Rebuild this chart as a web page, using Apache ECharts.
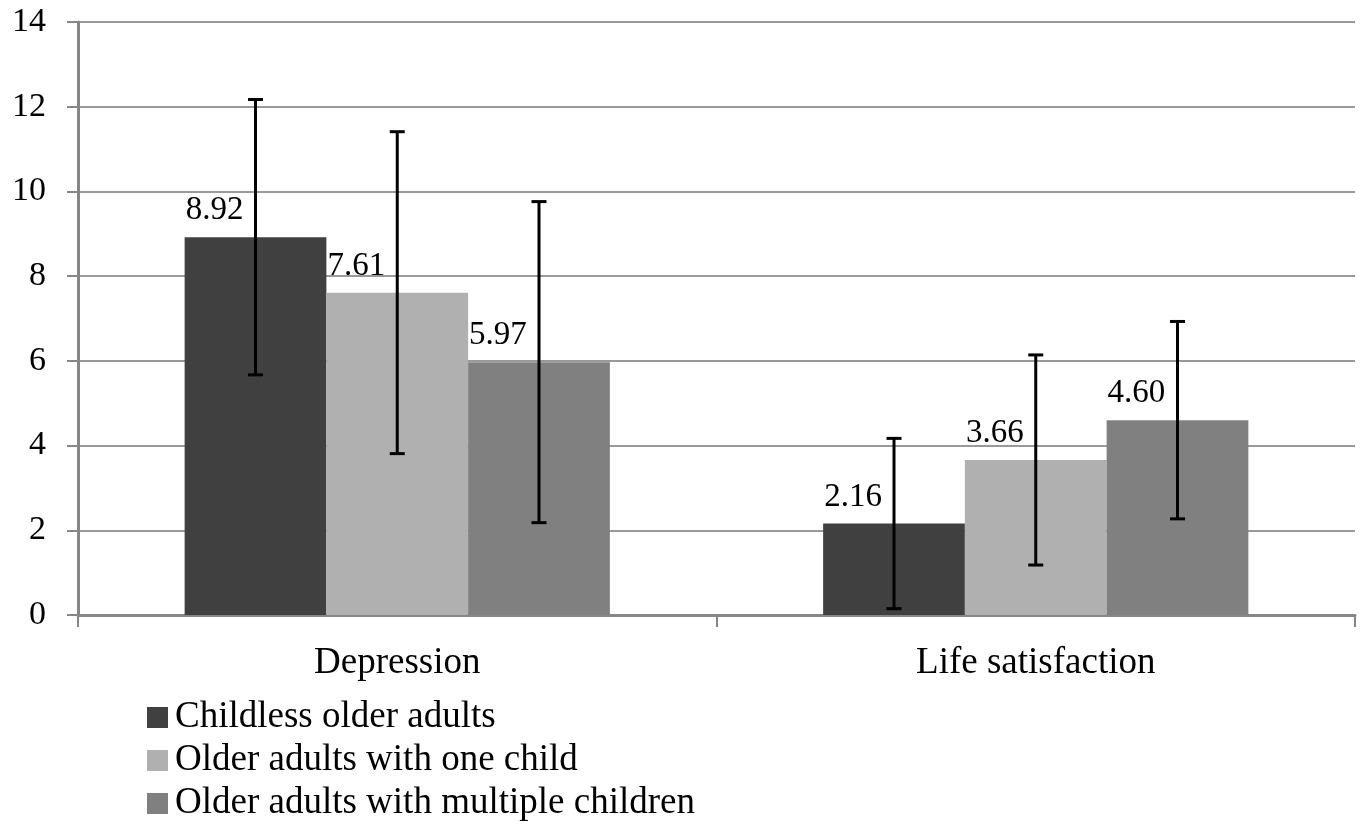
<!DOCTYPE html>
<html>
<head>
<meta charset="utf-8">
<script src="https://cdn.jsdelivr.net/npm/echarts@6/dist/echarts.min.js"></script>
<style>html,body{margin:0;padding:0;background:#fff;}#chart{width:1361px;height:825px;}</style>
</head>
<body>
<div id="chart"></div>
<script>
var categories = ['Depression', 'Life satisfaction'];
var seriesNames = ['Childless older adults', 'Older adults with one child', 'Older adults with multiple children'];
var childlessMean = [8.92, 2.16];
var oneChildMean = [7.61, 3.66];
var multipleMean = [5.97, 4.60];
var childlessSD = [3.25, 2.01];
var oneChildSD = [3.80, 2.48];
var multipleSD = [3.79, 2.33];
var yTicks = [0, 2, 4, 6, 8, 10, 12, 14];

var colors = ['#404040', '#b0b0b0', '#808080'];
var means = [childlessMean, oneChildMean, multipleMean];
var sds = [childlessSD, oneChildSD, multipleSD];
var FONT = '"Liberation Serif", "Times New Roman", serif';
var GAP = 0.334;

var errData = [];
for (var s = 0; s < 3; s++) {
  for (var c = 0; c < categories.length; c++) {
    errData.push([c, means[s][c] - sds[s][c], means[s][c] + sds[s][c], s]);
  }
}

var series = [];
for (var i = 0; i < 3; i++) {
  series.push({
    name: seriesNames[i],
    type: 'bar',
    data: means[i],
    barGap: '0%',
    barCategoryGap: (GAP * 100) + '%',
    itemStyle: { color: colors[i] },
    label: {
      show: true,
      position: [1, -10],
      align: 'left',
      verticalAlign: 'bottom',
      fontFamily: FONT,
      fontSize: 33,
      color: '#000',
      formatter: function (p) { return p.value.toFixed(2); }
    },
    emphasis: { disabled: true },
    z: 2
  });
}

series.push({
  type: 'custom',
  name: 'err',
  data: errData,
  z: 5,
  renderItem: function (params, api) {
    var c = api.value(0), lo = api.value(1), hi = api.value(2), s = api.value(3);
    var band = api.size([1, 0])[0];
    var bw = band * (1 - GAP) / 3;
    var center = api.coord([c, 0])[0];
    var x = center - band * (1 - GAP) / 2 + bw * (s + 0.5);
    var yLo = api.coord([c, lo])[1];
    var yHi = api.coord([c, hi])[1];
    var cap = 7.5;
    var st = { stroke: '#000', lineWidth: 3 };
    return {
      type: 'group',
      children: [
        { type: 'line', shape: { x1: x, y1: yLo, x2: x, y2: yHi }, style: st },
        { type: 'line', shape: { x1: x - cap, y1: yHi, x2: x + cap, y2: yHi }, style: st },
        { type: 'line', shape: { x1: x - cap, y1: yLo, x2: x + cap, y2: yLo }, style: st }
      ]
    };
  }
});

var chart = echarts.init(document.getElementById('chart'));
chart.setOption({
  animation: false,
  backgroundColor: '#fff',
  grid: { left: 78, right: 6, top: 22, bottom: 210, containLabel: false },
  legend: {
    data: seriesNames,
    orient: 'vertical',
    left: 147,
    top: 699,
    padding: 0,
    itemWidth: 21,
    itemHeight: 21,
    itemGap: 6,
    icon: 'rect',
    selectedMode: false,
    textStyle: { fontFamily: FONT, fontSize: 37, color: '#000', lineHeight: 37, padding: [0, 0, 0, 2] }
  },
  xAxis: {
    type: 'category',
    data: categories,
    axisLine: { lineStyle: { color: '#868686', width: 3 } },
    axisTick: { show: true, length: 12, lineStyle: { color: '#868686', width: 2 } },
    axisLabel: { fontFamily: FONT, fontSize: 37, color: '#000', margin: 30 },
    splitLine: { show: false }
  },
  yAxis: {
    type: 'value',
    min: yTicks[0],
    max: yTicks[yTicks.length - 1],
    interval: 2,
    axisLine: { show: true, lineStyle: { color: '#868686', width: 3 } },
    axisTick: { show: true, length: 11, lineStyle: { color: '#868686', width: 2 } },
    axisLabel: { fontFamily: FONT, fontSize: 34, color: '#000', margin: 32 },
    splitLine: { lineStyle: { color: '#999', width: 2 } }
  },
  series: series
});
</script>
</body>
</html>
